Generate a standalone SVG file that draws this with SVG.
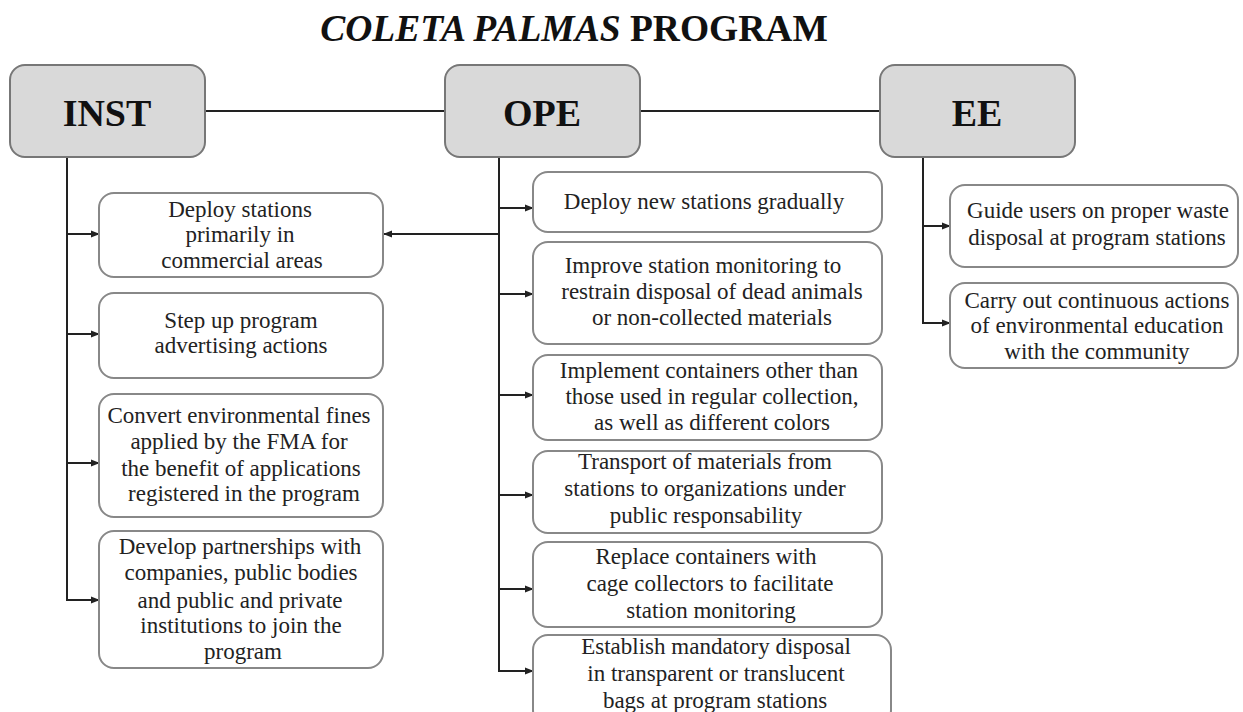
<svg xmlns="http://www.w3.org/2000/svg" width="1243" height="712" viewBox="0 0 1243 712">
<defs>
<marker id="arr" viewBox="0 0 10 10" refX="9" refY="5" markerWidth="4.5" markerHeight="4.5" orient="auto" markerUnits="strokeWidth">
<path d="M0,1 L10,5 L0,9 z" fill="#222"/>
</marker>
<style>
.main{fill:#d9d9d9;stroke:#777;stroke-width:2}
.box{fill:#fff;stroke:#888;stroke-width:2}
.mt{font-family:"Liberation Serif",serif;font-weight:bold;font-size:38px;fill:#111;text-anchor:middle}
.t{font-family:"Liberation Serif",serif;font-size:23px;fill:#222;text-anchor:middle}
.ln{stroke:#222;stroke-width:2;fill:none}
.ar{stroke:#222;stroke-width:2;fill:none;marker-end:url(#arr)}
</style>
</defs>
<rect width="1243" height="712" fill="#fff"/>
<text x="574" y="41" font-family="Liberation Serif, serif" font-size="37.5" font-weight="bold" fill="#111" text-anchor="middle"><tspan font-style="italic">COLETA PALMAS</tspan> PROGRAM</text>

<g id="connectors">
<line class="ln" x1="205" y1="111" x2="445" y2="111"/>
<line class="ln" x1="640" y1="111" x2="880" y2="111"/>
<line class="ln" x1="67" y1="157" x2="67" y2="601"/>
<path class="ar" d="M66,234 H99"/>
<path class="ar" d="M66,334 H99"/>
<path class="ar" d="M66,463 H99"/>
<path class="ar" d="M66,600 H99"/>
<line class="ln" x1="499" y1="157" x2="499" y2="672"/>
<path class="ar" d="M499,234 H384"/>
<path class="ar" d="M498,208 H533"/>
<path class="ar" d="M498,294 H533"/>
<path class="ar" d="M498,395 H533"/>
<path class="ar" d="M498,495 H533"/>
<path class="ar" d="M498,589 H533"/>
<path class="ar" d="M498,671 H533"/>
<line class="ln" x1="923" y1="157" x2="923" y2="324"/>
<path class="ar" d="M922,226 H950"/>
<path class="ar" d="M922,323 H950"/>
</g>

<g id="inst"><rect class="main" x="10" y="65" width="195" height="92" rx="15"/><text class="mt" x="107" y="126">INST</text></g>
<g id="ope"><rect class="main" x="445" y="65" width="195" height="92" rx="15"/><text class="mt" x="542" y="126">OPE</text></g>
<g id="ee"><rect class="main" x="880" y="65" width="195" height="92" rx="15"/><text class="mt" x="977" y="126">EE</text></g>

<g id="inst1"><rect class="box" x="99" y="193" width="284" height="84" rx="15"/>
<text class="t"><tspan x="240" y="217">Deploy stations</tspan><tspan x="240" y="242">primarily in</tspan><tspan x="242" y="268">commercial areas</tspan></text></g>
<g id="inst2"><rect class="box" x="99" y="293" width="284" height="85" rx="15"/>
<text class="t"><tspan x="241" y="328">Step up program</tspan><tspan x="241" y="353">advertising actions</tspan></text></g>
<g id="inst3"><rect class="box" x="99" y="394" width="284" height="123" rx="15"/>
<text class="t"><tspan x="239" y="423">Convert environmental fines</tspan><tspan x="239" y="449">applied by the FMA for</tspan><tspan x="241" y="476">the benefit of applications</tspan><tspan x="244" y="501">registered in the program</tspan></text></g>
<g id="inst4"><rect class="box" x="99" y="531" width="284" height="137" rx="15"/>
<text class="t"><tspan x="240" y="554">Develop partnerships with</tspan><tspan x="241" y="580">companies, public bodies</tspan><tspan x="240" y="608">and public and private</tspan><tspan x="241" y="633">institutions to join the</tspan><tspan x="243" y="659">program</tspan></text></g>

<g id="ope1"><rect class="box" x="533" y="172" width="349" height="60" rx="15"/>
<text class="t" x="704" y="209">Deploy new stations gradually</text></g>
<g id="ope2"><rect class="box" x="533" y="242" width="349" height="102" rx="15"/>
<text class="t"><tspan x="703" y="273">Improve station monitoring to</tspan><tspan x="712" y="299">restrain disposal of dead animals</tspan><tspan x="712" y="325">or non-collected materials</tspan></text></g>
<g id="ope3"><rect class="box" x="533" y="355" width="349" height="85" rx="15"/>
<text class="t"><tspan x="709" y="378">Implement containers other than</tspan><tspan x="712" y="404">those used in regular collection,</tspan><tspan x="712" y="430">as well as different colors</tspan></text></g>
<g id="ope4"><rect class="box" x="533" y="451" width="349" height="82" rx="15"/>
<text class="t"><tspan x="705" y="469">Transport of materials from</tspan><tspan x="705" y="496">stations to organizations under</tspan><tspan x="706" y="523">public responsability</tspan></text></g>
<g id="ope5"><rect class="box" x="533" y="542" width="349" height="85" rx="15"/>
<text class="t"><tspan x="706" y="564">Replace containers with</tspan><tspan x="710" y="591">cage collectors to facilitate</tspan><tspan x="711" y="618">station monitoring</tspan></text></g>
<g id="ope6"><rect class="box" x="533" y="635" width="358" height="90" rx="15"/>
<text class="t"><tspan x="716" y="654">Establish mandatory disposal</tspan><tspan x="716" y="681">in transparent or translucent</tspan><tspan x="715" y="708">bags at program stations</tspan></text></g>

<g id="ee1"><rect class="box" x="950" y="185" width="288" height="82" rx="15"/>
<text class="t"><tspan x="1098" y="218">Guide users on proper waste</tspan><tspan x="1097" y="245">disposal at program stations</tspan></text></g>
<g id="ee2"><rect class="box" x="950" y="283" width="288" height="85" rx="15"/>
<text class="t"><tspan x="1097" y="308">Carry out continuous actions</tspan><tspan x="1097" y="333">of environmental education</tspan><tspan x="1097" y="359">with the community</tspan></text></g>
</svg>
